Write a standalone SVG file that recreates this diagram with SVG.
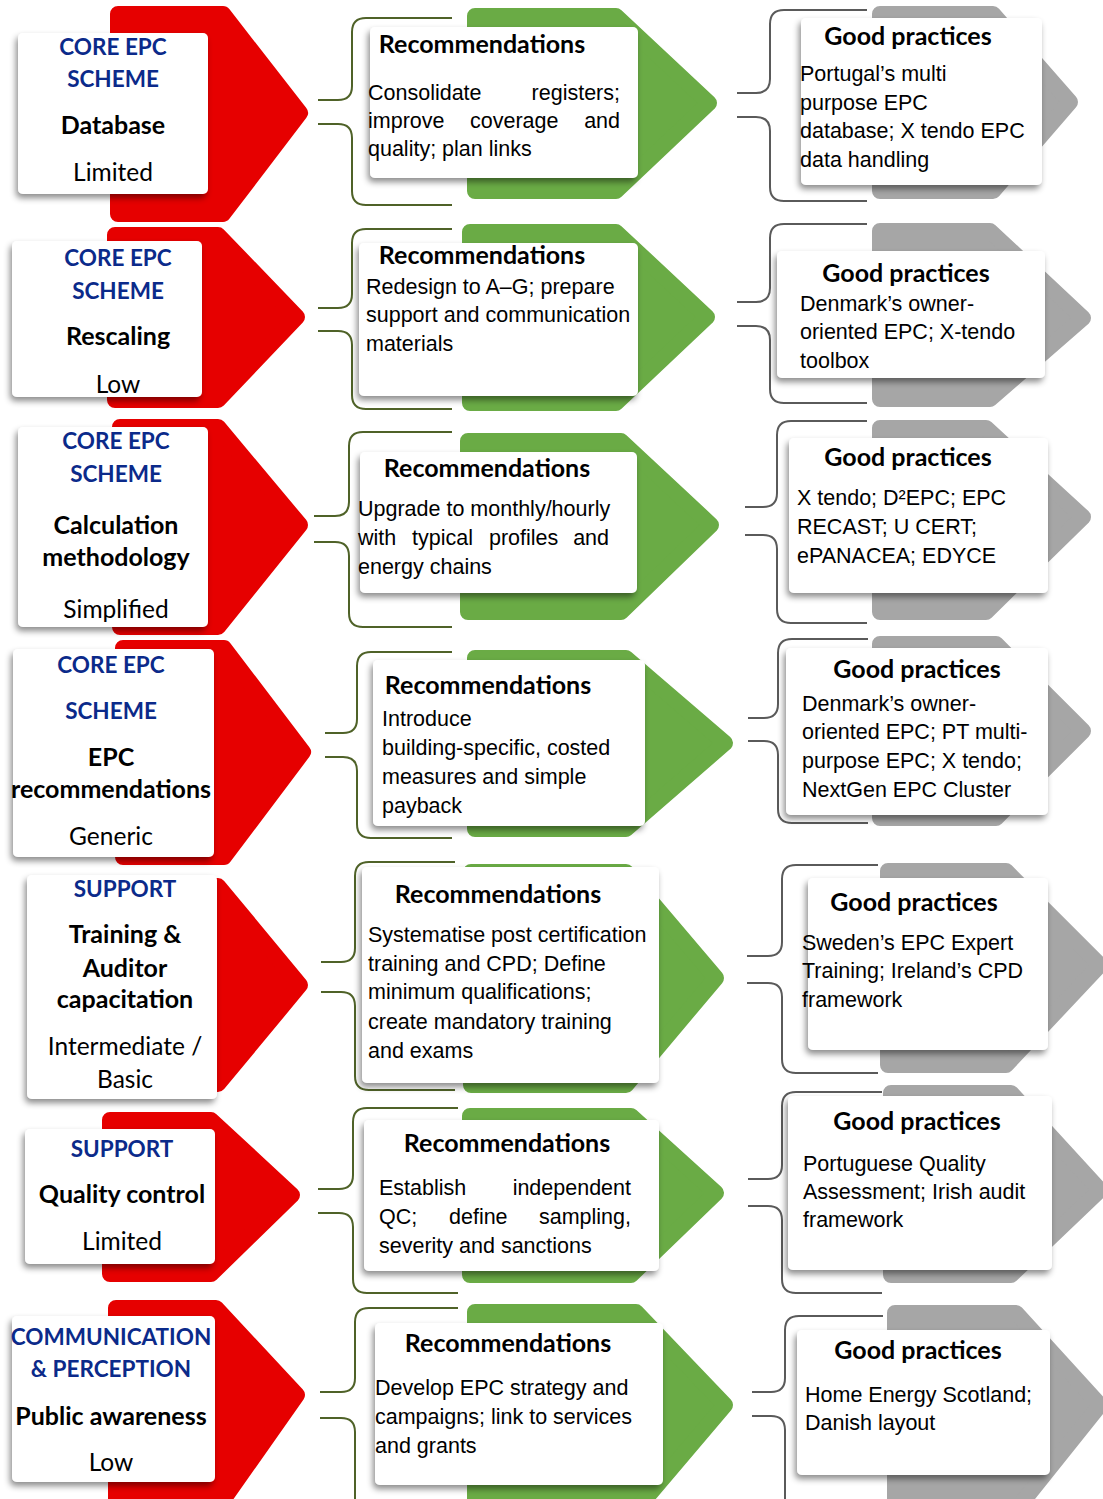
<svg xmlns="http://www.w3.org/2000/svg" width="1103" height="1499" viewBox="0 0 1103 1499">
<defs>
<filter id="sh" x="-10%" y="-10%" width="125%" height="130%">
<feDropShadow dx="-2" dy="4" stdDeviation="3" flood-color="#000" flood-opacity="0.45"/>
</filter>
<style>
.red{fill:#E60000;stroke:#E60000;stroke-width:16;stroke-linejoin:round}
.grn{fill:#6AAB45;stroke:#6AAB45;stroke-width:16;stroke-linejoin:round}
.gry{fill:#A6A6A6;stroke:#A6A6A6;stroke-width:16;stroke-linejoin:round}
.box{fill:#fff;filter:url(#sh)}
.brg{fill:none;stroke:#4F6228;stroke-width:2}
.brk{fill:none;stroke:#5A5A5A;stroke-width:2}
text{font-family:Lato,"Liberation Sans",sans-serif}
.cat{font-weight:bold;font-size:22.5px;fill:#0B2A8A;text-anchor:middle}
.top{font-weight:bold;font-size:25px;fill:#000;text-anchor:middle}
.lvl{font-size:24.5px;fill:#000;text-anchor:middle}
.ttl{font-weight:bold;font-size:25px;fill:#000;text-anchor:middle}
.bd{font-family:"Liberation Sans",Arial,sans-serif;font-size:21.5px;fill:#000}
.e{text-anchor:end}
</style>
</defs>

<g id="connectors">
<path class="brg" d="M452,18 H366 Q352,18 352,32 V86 Q352,100 338,100 H318 M318,124 H338 Q352,124 352,138 V191 Q352,205 366,205 H452"/>
<path class="brk" d="M867,10 H784 Q770,10 770,24 V79 Q770,93 756,93 H737 M737,117 H756 Q770,117 770,131 V187 Q770,201 784,201 H867"/>
<path class="brg" d="M452,229 H366 Q352,229 352,243 V294 Q352,308 338,308 H318 M318,331 H338 Q352,331 352,345 V395 Q352,409 366,409 H452"/>
<path class="brk" d="M867,224 H784 Q770,224 770,238 V288 Q770,302 756,302 H737 M737,326 H756 Q770,326 770,340 V389 Q770,403 784,403 H867"/>
<path class="brg" d="M452,432 H363 Q349,432 349,446 V502 Q349,516 335,516 H314 M314,542 H335 Q349,542 349,556 V613 Q349,627 363,627 H452"/>
<path class="brk" d="M867,421 H791 Q777,421 777,435 V493 Q777,507 763,507 H745 M745,535 H763 Q777,535 777,549 V609 Q777,623 791,623 H867"/>
<path class="brg" d="M452,652 H371 Q357,652 357,666 V719 Q357,733 343,733 H325 M325,757 H343 Q357,757 357,771 V824 Q357,838 371,838 H452"/>
<path class="brk" d="M868,639 H792 Q778,639 778,653 V704 Q778,718 764,718 H748 M748,741 H764 Q778,741 778,755 V809 Q778,823 792,823 H868"/>
<path class="brg" d="M455,862 H369 Q355,862 355,876 V948 Q355,962 341,962 H321 M321,992 H341 Q355,992 355,1006 V1076 Q355,1090 369,1090 H455"/>
<path class="brk" d="M878,865 H796 Q782,865 782,879 V942 Q782,956 768,956 H747 M747,983 H768 Q782,983 782,997 V1059 Q782,1073 796,1073 H878"/>
<path class="brg" d="M458,1108 H367 Q353,1108 353,1122 V1175 Q353,1189 339,1189 H318 M318,1213 H339 Q353,1213 353,1227 V1279 Q353,1293 367,1293 H458"/>
<path class="brk" d="M882,1092 H796 Q782,1092 782,1106 V1165 Q782,1179 768,1179 H748 M748,1206 H768 Q782,1206 782,1220 V1279 Q782,1293 796,1293 H882"/>
<path class="brg" d="M458,1308 H369 Q355,1308 355,1322 V1378 Q355,1392 341,1392 H320 M320,1418 H341 Q355,1418 355,1432 V1510"/>
<path class="brk" d="M883,1316 H799 Q785,1316 785,1330 V1378 Q785,1392 771,1392 H752 M752,1416 H771 Q785,1416 785,1430 V1510"/>
</g>

<!-- Row 1 -->
<g id="issue-database">
<polygon class="red" points="118,14 223,14 300,113 223,214 118,214"/>
<rect class="box" x="18" y="33" width="190" height="161" rx="5"/>
<text class="cat" x="113" y="55">CORE EPC</text>
<text class="cat" x="113" y="87">SCHEME</text>
<text class="top" x="113" y="134">Database</text>
<text class="lvl" x="113" y="181">Limited</text>
</g>
<g id="rec-database">
<polygon class="grn" points="475,16 616,16 709,103 616,191 475,191"/>
<rect class="box" x="370" y="27" width="268" height="151" rx="5"/>
<text class="ttl" x="482" y="53">Recommendations</text>
<text class="bd" y="100"><tspan x="368">Consolidate</tspan><tspan class="e" x="620">registers;</tspan></text>
<text class="bd" y="128"><tspan x="368">improve</tspan><tspan x="470">coverage</tspan><tspan class="e" x="620">and</tspan></text>
<text class="bd" x="368" y="156">quality; plan links</text>
</g>
<g id="gp-database">
<polygon class="gry" points="880,14 993,14 1070,102 993,191 880,191"/>
<rect class="box" x="801" y="18" width="241" height="167" rx="5"/>
<text class="ttl" x="908" y="45">Good practices</text>
<text class="bd" x="800" y="81">Portugal’s multi</text>
<text class="bd" x="800" y="110">purpose EPC</text>
<text class="bd" x="800" y="138">database; X tendo EPC</text>
<text class="bd" x="800" y="167">data handling</text>
</g>

<!-- Row 2 -->
<g id="issue-rescaling">
<polygon class="red" points="115,235 218,235 297,317 218,400 115,400"/>
<rect class="box" x="12" y="241" width="190" height="156" rx="5"/>
<text class="cat" x="118" y="266">CORE EPC</text>
<text class="cat" x="118" y="299">SCHEME</text>
<text class="top" x="118" y="345">Rescaling</text>
<text class="lvl" x="118" y="393">Low</text>
</g>
<g id="rec-rescaling">
<polygon class="grn" points="470,232 616,232 707,317 616,403 470,403"/>
<rect class="box" x="359" y="243" width="279" height="153" rx="5"/>
<text class="ttl" x="482" y="264">Recommendations</text>
<text class="bd" x="366" y="294">Redesign to A–G; prepare</text>
<text class="bd" x="366" y="322">support and communication</text>
<text class="bd" x="366" y="351">materials</text>
</g>
<g id="gp-rescaling">
<polygon class="gry" points="880,231 990,231 1083,318 990,399 880,399"/>
<rect class="box" x="777" y="251" width="268" height="127" rx="5"/>
<text class="ttl" x="906" y="282">Good practices</text>
<text class="bd" x="800" y="311">Denmark’s owner-</text>
<text class="bd" x="800" y="339">oriented EPC; X-tendo</text>
<text class="bd" x="800" y="368">toolbox</text>
</g>

<!-- Row 3 -->
<g id="issue-calculation">
<polygon class="red" points="120,427 218,427 300,525 218,627 120,627"/>
<rect class="box" x="18" y="427" width="190" height="200" rx="5"/>
<text class="cat" x="116" y="449">CORE EPC</text>
<text class="cat" x="116" y="482">SCHEME</text>
<text class="top" x="116" y="534">Calculation</text>
<text class="top" x="116" y="566">methodology</text>
<text class="lvl" x="116" y="618">Simplified</text>
</g>
<g id="rec-calculation">
<polygon class="grn" points="468,441 621,441 711,525 621,612 468,612"/>
<rect class="box" x="360" y="452" width="277" height="141" rx="5"/>
<text class="ttl" x="487" y="477">Recommendations</text>
<text class="bd" x="358" y="516">Upgrade to monthly/hourly</text>
<text class="bd" y="545"><tspan x="358">with</tspan><tspan x="412">typical</tspan><tspan x="489">profiles</tspan><tspan class="e" x="609">and</tspan></text>
<text class="bd" x="358" y="574">energy chains</text>
</g>
<g id="gp-calculation">
<polygon class="gry" points="880,428 986,428 1083,517 986,612 880,612"/>
<rect class="box" x="789" y="438" width="259" height="155" rx="5"/>
<text class="ttl" x="908" y="466">Good practices</text>
<text class="bd" x="797" y="505">X tendo; D²EPC; EPC</text>
<text class="bd" x="797" y="534">RECAST; U CERT;</text>
<text class="bd" x="797" y="563">ePANACEA; EDYCE</text>
</g>

<!-- Row 4 -->
<g id="issue-recommendations">
<polygon class="red" points="123,648 224,648 303,752 224,857 123,857"/>
<rect class="box" x="13" y="649" width="201" height="208" rx="5"/>
<text class="cat" x="111" y="673">CORE EPC</text>
<text class="cat" x="111" y="719">SCHEME</text>
<text class="top" x="111" y="766">EPC</text>
<text class="top" x="111" y="798">recommendations</text>
<text class="lvl" x="111" y="845">Generic</text>
</g>
<g id="rec-recommendations">
<polygon class="grn" points="475,658 626,658 725,743 626,829 475,829"/>
<rect class="box" x="373" y="660" width="272" height="166" rx="5"/>
<text class="ttl" x="488" y="694">Recommendations</text>
<text class="bd" x="382" y="726">Introduce</text>
<text class="bd" x="382" y="755">building-specific, costed</text>
<text class="bd" x="382" y="784">measures and simple</text>
<text class="bd" x="382" y="813">payback</text>
</g>
<g id="gp-recommendations">
<polygon class="gry" points="880,644 996,644 1083,731 996,818 880,818"/>
<rect class="box" x="786" y="648" width="262" height="167" rx="5"/>
<text class="ttl" x="917" y="678">Good practices</text>
<text class="bd" x="802" y="711">Denmark’s owner-</text>
<text class="bd" x="802" y="739">oriented EPC; PT multi-</text>
<text class="bd" x="802" y="768">purpose EPC; X tendo;</text>
<text class="bd" x="802" y="797">NextGen EPC Cluster</text>
</g>

<!-- Row 5 -->
<g id="issue-training">
<polygon class="red" points="128,886 218,886 300,985 218,1084 128,1084"/>
<rect class="box" x="27" y="875" width="190" height="224" rx="5"/>
<text class="cat" x="125" y="897">SUPPORT</text>
<text class="top" x="125" y="943">Training &amp;</text>
<text class="top" x="125" y="977">Auditor</text>
<text class="top" x="125" y="1008">capacitation</text>
<text class="lvl" x="125" y="1055">Intermediate /</text>
<text class="lvl" x="125" y="1088">Basic</text>
</g>
<g id="rec-training">
<polygon class="grn" points="471,872 626,872 716,978 626,1085 471,1085"/>
<rect class="box" x="362" y="867" width="297" height="216" rx="5"/>
<text class="ttl" x="498" y="903">Recommendations</text>
<text class="bd" x="368" y="942">Systematise post certification</text>
<text class="bd" x="368" y="971">training and CPD; Define</text>
<text class="bd" x="368" y="999">minimum qualifications;</text>
<text class="bd" x="368" y="1029">create mandatory training</text>
<text class="bd" x="368" y="1058">and exams</text>
</g>
<g id="gp-training">
<polygon class="gry" points="888,871 1006,871 1100,965 1006,1065 888,1065"/>
<rect class="box" x="808" y="878" width="240" height="172" rx="5"/>
<text class="ttl" x="914" y="911">Good practices</text>
<text class="bd" x="802" y="950">Sweden’s EPC Expert</text>
<text class="bd" x="802" y="978">Training; Ireland’s CPD</text>
<text class="bd" x="802" y="1007">framework</text>
</g>

<!-- Row 6 -->
<g id="issue-quality">
<polygon class="red" points="110,1120 211,1120 292,1195 211,1274 110,1274"/>
<rect class="box" x="25" y="1129" width="190" height="135" rx="5"/>
<text class="cat" x="122" y="1157">SUPPORT</text>
<text class="top" x="122" y="1203">Quality control</text>
<text class="lvl" x="122" y="1250">Limited</text>
</g>
<g id="rec-quality">
<polygon class="grn" points="470,1116 631,1116 716,1193 631,1275 470,1275"/>
<rect class="box" x="364" y="1120" width="295" height="151" rx="5"/>
<text class="ttl" x="507" y="1152">Recommendations</text>
<text class="bd" y="1195"><tspan x="379">Establish</tspan><tspan class="e" x="631">independent</tspan></text>
<text class="bd" y="1224"><tspan x="379">QC;</tspan><tspan x="449">define</tspan><tspan class="e" x="631">sampling,</tspan></text>
<text class="bd" x="379" y="1253">severity and sanctions</text>
</g>
<g id="gp-quality">
<polygon class="gry" points="891,1093 1011,1093 1100,1190 1011,1275 891,1275"/>
<rect class="box" x="788" y="1096" width="264" height="174" rx="5"/>
<text class="ttl" x="917" y="1130">Good practices</text>
<text class="bd" x="803" y="1171">Portuguese Quality</text>
<text class="bd" x="803" y="1199">Assessment; Irish audit</text>
<text class="bd" x="803" y="1227">framework</text>
</g>

<!-- Row 7 -->
<g id="issue-awareness">
<polygon class="red" points="116,1308 216,1308 297,1395 216,1510 116,1510"/>
<rect class="box" x="12" y="1316" width="203" height="166" rx="5"/>
<text class="cat" x="111" y="1345">COMMUNICATION</text>
<text class="cat" x="111" y="1377">&amp; PERCEPTION</text>
<text class="top" x="111" y="1425">Public awareness</text>
<text class="lvl" x="111" y="1471">Low</text>
</g>
<g id="rec-awareness">
<polygon class="grn" points="475,1312 636,1312 725,1405 636,1510 475,1510"/>
<rect class="box" x="375" y="1323" width="288" height="162" rx="5"/>
<text class="ttl" x="508" y="1352">Recommendations</text>
<text class="bd" x="375" y="1395">Develop EPC strategy and</text>
<text class="bd" x="375" y="1424">campaigns; link to services</text>
<text class="bd" x="375" y="1453">and grants</text>
</g>
<g id="gp-awareness">
<polygon class="gry" points="895,1313 1016,1313 1100,1405 1016,1510 895,1510"/>
<rect class="box" x="797" y="1330" width="253" height="145" rx="5"/>
<text class="ttl" x="918" y="1359">Good practices</text>
<text class="bd" x="805" y="1402">Home Energy Scotland;</text>
<text class="bd" x="805" y="1430">Danish layout</text>
</g>
</svg>
